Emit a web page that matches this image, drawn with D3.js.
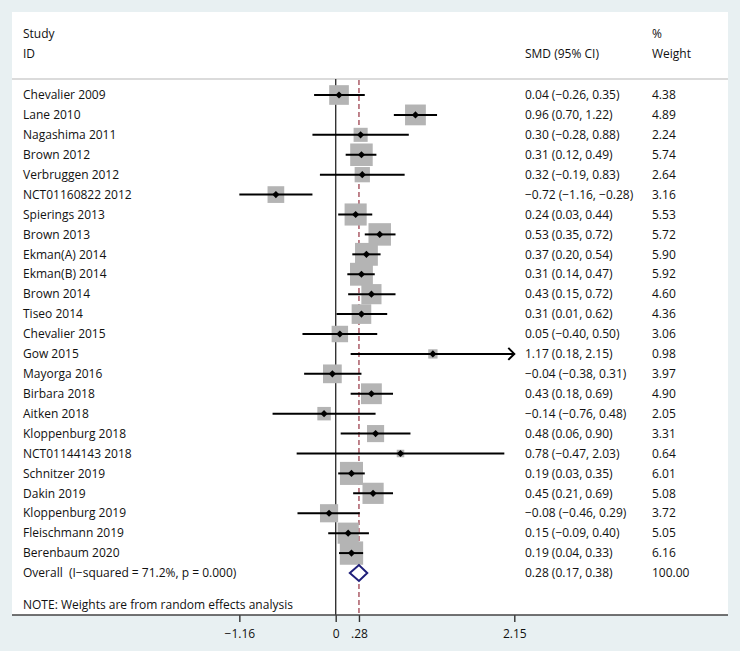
<!DOCTYPE html>
<html><head><meta charset="utf-8">
<script src="https://cdn.jsdelivr.net/npm/d3@7"></script>
<style>
html,body{margin:0;padding:0;background:#e8f0f2;}
svg{display:block;font-family:"Open Sans",sans-serif;}
text{white-space:pre;}
</style></head>
<body>
<svg id="chart" width="740" height="651"></svg>
<script>
const studies = ["Chevalier 2009","Lane 2010","Nagashima 2011","Brown 2012","Verbruggen 2012","NCT01160822 2012","Spierings 2013","Brown 2013","Ekman(A) 2014","Ekman(B) 2014","Brown 2014","Tiseo 2014","Chevalier 2015","Gow 2015","Mayorga 2016","Birbara 2018","Aitken 2018","Kloppenburg 2018","NCT01144143 2018","Schnitzer 2019","Dakin 2019","Kloppenburg 2019","Fleischmann 2019","Berenbaum 2020"];
const smd   = [0.04,0.96,0.30,0.31,0.32,-0.72,0.24,0.53,0.37,0.31,0.43,0.31,0.05,1.17,-0.04,0.43,-0.14,0.48,0.78,0.19,0.45,-0.08,0.15,0.19];
const lower = [-0.26,0.70,-0.28,0.12,-0.19,-1.16,0.03,0.35,0.20,0.14,0.15,0.01,-0.40,0.18,-0.38,0.18,-0.76,0.06,-0.47,0.03,0.21,-0.46,-0.09,0.04];
const upper = [0.35,1.22,0.88,0.49,0.83,-0.28,0.44,0.72,0.54,0.47,0.72,0.62,0.50,2.15,0.31,0.69,0.48,0.90,2.03,0.35,0.69,0.29,0.40,0.33];
const weight = [4.38,4.89,2.24,5.74,2.64,3.16,5.53,5.72,5.90,5.92,4.60,4.36,3.06,0.98,3.97,4.90,2.05,3.31,0.64,6.01,5.08,3.72,5.05,6.16];
const overall = {label:"Overall  (I\u2212squared = 71.2%, p = 0.000)", smd:0.28, lower:0.17, upper:0.38, weight:100.00};
const tickValues = [-1.16, 0, 0.28, 2.15];
const tickLabels = ["\u22121.16", "0", ".28", "2.15"];
const xDomain = [-2.15, 2.15];

const fmt = v => (v < 0 ? "\u2212" : "") + Math.abs(v).toFixed(2);
const svg = d3.select("#chart");
const W = 740, H = 651;
const panel = {l:12, t:12, r:728, b:615};

svg.append("rect").attr("x",0).attr("y",0).attr("width",W).attr("height",H).attr("fill","#e8f0f2");
svg.append("rect").attr("x",panel.l).attr("y",panel.t).attr("width",panel.r-panel.l).attr("height",panel.b-panel.t).attr("fill","#ffffff");

const x = d3.scaleLinear().domain(xDomain).range([157.1, 514.3]);
const rows = studies.concat(["__overall"]);
const y = d3.scalePoint().domain(rows).range([95, 573]);

const textColor = "#111";
const fs = "12px";

// header
const hdr = svg.append("g").attr("fill",textColor).style("font-size",fs);
hdr.append("text").attr("x",23).attr("y",34).attr("dy","0.35em").text("Study");
hdr.append("text").attr("x",23).attr("y",54).attr("dy","0.35em").text("ID");
hdr.append("text").attr("x",525).attr("y",54).attr("dy","0.35em").text("SMD (95% CI)");
hdr.append("text").attr("x",652).attr("y",34).attr("dy","0.35em").text("%");
hdr.append("text").attr("x",652).attr("y",54).attr("dy","0.35em").text("Weight");
svg.append("line").attr("x1",panel.l).attr("x2",panel.r).attr("y1",79).attr("y2",79).attr("stroke","#cfcfcf").attr("stroke-width",1.5);

// zero line
svg.append("line").attr("x1",x(0)).attr("x2",x(0)).attr("y1",79).attr("y2",panel.b).attr("stroke","#333").attr("stroke-width",1.4);
// overall dashed line
svg.append("line").attr("x1",x(overall.smd)).attr("x2",x(overall.smd)).attr("y1",80).attr("y2",panel.b)
  .attr("stroke","#a5505c").attr("stroke-width",1.4).attr("stroke-dasharray","5,3");

const data = studies.map((s,i)=>({s, m:smd[i], lo:lower[i], hi:upper[i], w:weight[i]}));

// boxes
svg.append("g").selectAll("rect").data(data).join("rect")
  .attr("x",d=>x(d.m)-4.7*Math.sqrt(d.w)).attr("y",d=>y(d.s)-4.7*Math.sqrt(d.w))
  .attr("width",d=>9.4*Math.sqrt(d.w)).attr("height",d=>9.4*Math.sqrt(d.w))
  .attr("fill","#b4b4b4");

// CI lines
const xmax = xDomain[1];
svg.append("g").selectAll("line").data(data).join("line")
  .attr("x1",d=>x(Math.max(d.lo,xDomain[0]))).attr("x2",d=>x(Math.min(d.hi,xmax)))
  .attr("y1",d=>y(d.s)).attr("y2",d=>y(d.s)).attr("stroke","#000").attr("stroke-width",2);
// arrows
svg.append("g").selectAll("path").data(data.filter(d=>d.hi>=xmax)).join("path")
  .attr("d",d=>{const ax=x(xmax), ay=y(d.s); return `M${ax-6},${ay-6}L${ax},${ay}L${ax-6},${ay+6}`;})
  .attr("fill","none").attr("stroke","#000").attr("stroke-width",2);
// point markers
svg.append("g").selectAll("path").data(data).join("path")
  .attr("d",d=>{const cx=x(d.m), cy=y(d.s), r=3.6; return `M${cx},${cy-r}L${cx+r},${cy}L${cx},${cy+r}L${cx-r},${cy}Z`;})
  .attr("fill","#000");

// overall diamond
{
  const cy = y("__overall"), h = 8;
  svg.append("path").attr("d",`M${x(overall.lower)},${cy}L${x(overall.smd)},${cy-h}L${x(overall.upper)},${cy}L${x(overall.smd)},${cy+h}Z`)
    .attr("fill","#fff").attr("stroke","#1f1f7a").attr("stroke-width",2);
}

// texts
const tg = svg.append("g").attr("fill",textColor).style("font-size",fs);
tg.selectAll("text.lab").data(data).join("text").attr("class","lab").attr("x",23).attr("y",d=>y(d.s)).attr("dy","0.35em").text(d=>d.s);
tg.selectAll("text.est").data(data).join("text").attr("class","est").attr("x",525).attr("y",d=>y(d.s)).attr("dy","0.35em")
  .text(d=>`${fmt(d.m)} (${fmt(d.lo)}, ${fmt(d.hi)})`);
tg.selectAll("text.wt").data(data).join("text").attr("class","wt").attr("x",652).attr("y",d=>y(d.s)).attr("dy","0.35em").text(d=>d.w.toFixed(2));
const oy = y("__overall");
tg.append("text").attr("x",23).attr("y",oy).attr("dy","0.35em").text(overall.label);
tg.append("text").attr("x",525).attr("y",oy).attr("dy","0.35em").text(`${fmt(overall.smd)} (${fmt(overall.lower)}, ${fmt(overall.upper)})`);
tg.append("text").attr("x",652).attr("y",oy).attr("dy","0.35em").text(overall.weight.toFixed(2));
tg.append("text").attr("x",23).attr("y",605).attr("dy","0.35em").text("NOTE: Weights are from random effects analysis");

// axis
const axis = d3.axisBottom(x).tickValues(tickValues).tickFormat((d,i)=>tickLabels[i]).tickSize(7).tickPadding(7);
const ag = svg.append("g").attr("transform",`translate(0,${panel.b})`).call(axis);
ag.select(".domain").remove();
ag.selectAll(".tick line").attr("stroke","#333").attr("stroke-width",1.4);
ag.selectAll(".tick text").attr("fill",textColor).style("font-size",fs).style("font-family","'Open Sans',sans-serif");
svg.append("line").attr("x1",panel.l).attr("x2",panel.r).attr("y1",panel.b).attr("y2",panel.b).attr("stroke","#444").attr("stroke-width",1.5);
</script>
</body></html>
